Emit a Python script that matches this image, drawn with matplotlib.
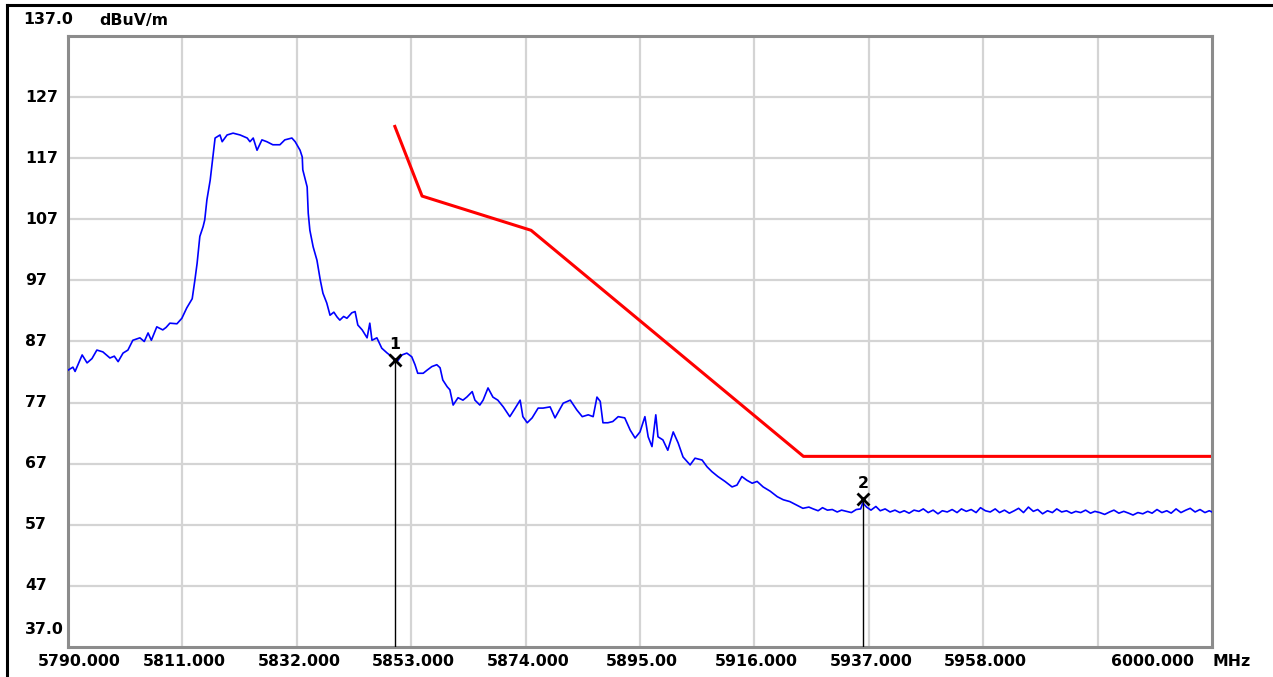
import matplotlib
matplotlib.use("Agg")
import matplotlib.pyplot as plt
from matplotlib.lines import Line2D
import matplotlib.transforms as mtrans

# ----- data -----
freq_mhz = [
    5790.0, 5790.9, 5791.3, 5792.6, 5793.5, 5794.4, 5795.3, 5796.4, 5797.7, 5798.5,
    5799.2, 5800.1, 5801.0, 5801.9, 5803.2, 5804.0, 5804.7, 5805.3, 5806.3, 5807.4,
    5808.0, 5808.7, 5810.0, 5810.9, 5811.8, 5812.8, 5813.3, 5813.7, 5814.2, 5814.8,
    5815.1, 5815.5, 5816.1, 5816.6, 5817.0, 5817.9, 5818.3, 5819.2, 5820.3, 5821.6,
    5822.9, 5823.4, 5824.0, 5824.7, 5825.6, 5826.5, 5827.6, 5828.9, 5829.8, 5831.1,
    5831.7, 5832.6, 5833.0, 5833.1, 5833.9, 5834.1, 5834.4, 5835.0, 5835.7, 5836.3,
    5836.8, 5837.5, 5838.1, 5838.8, 5839.4, 5839.9, 5840.6, 5841.2, 5842.1, 5842.7,
    5843.2, 5844.0, 5844.9, 5845.4, 5845.8, 5846.7, 5847.6, 5848.6, 5849.5, 5850.4,
    5851.3, 5852.2, 5853.1, 5853.7, 5854.2, 5855.2, 5855.9, 5856.8, 5857.7, 5858.3,
    5858.8, 5859.6, 5860.1, 5860.7, 5861.6, 5862.5, 5863.2, 5864.2, 5864.7, 5865.6,
    5866.2, 5867.1, 5868.0, 5868.9, 5869.9, 5871.1, 5872.1, 5873.0, 5873.5, 5874.3,
    5875.2, 5876.3, 5877.2, 5878.5, 5879.4, 5880.9, 5882.2, 5883.4, 5884.4, 5885.5,
    5886.4, 5887.1, 5887.7, 5888.2, 5889.1, 5890.0, 5891.0, 5892.2, 5893.2, 5894.1,
    5895.0, 5895.9, 5896.5, 5897.2, 5897.9, 5898.3, 5899.2, 5900.1, 5901.1, 5902.0,
    5902.9, 5904.2, 5905.1, 5906.4, 5907.3, 5908.2, 5909.3, 5910.6, 5911.9, 5912.8,
    5913.7, 5914.6, 5915.6, 5916.5, 5917.6, 5918.9, 5920.2, 5921.3, 5922.5, 5923.8,
    5924.9, 5926.0, 5926.8, 5927.7, 5928.5, 5929.4, 5930.3, 5931.2, 5932.0, 5932.9,
    5933.8, 5934.7, 5935.5, 5935.9, 5936.6, 5937.4, 5938.3, 5939.1, 5940.0, 5940.9,
    5941.8, 5942.7, 5943.5, 5944.4, 5945.3, 5946.2, 5947.0, 5947.9, 5948.8, 5949.7,
    5950.5, 5951.4, 5952.3, 5953.2, 5954.0, 5954.9, 5955.8, 5956.7, 5957.5, 5958.4,
    5959.3, 5960.2, 5961.0, 5961.9, 5962.8, 5963.7, 5964.5, 5965.4, 5966.3, 5967.2,
    5968.0, 5968.9, 5969.8, 5970.7, 5971.5, 5972.4, 5973.3, 5974.2, 5975.0, 5975.9,
    5976.8, 5977.7, 5978.5, 5979.4, 5980.3, 5981.2, 5982.0, 5982.9, 5983.8, 5984.7,
    5985.5, 5986.4, 5987.3, 5988.2, 5989.0, 5989.9, 5990.8, 5991.7, 5992.5, 5993.4,
    5994.3, 5995.2, 5996.0, 5996.9, 5997.8, 5998.7, 5999.5, 6000.0,
]
level_dbuv = [
    82.3, 82.8, 82.1, 84.8, 83.5, 84.2, 85.6, 85.3, 84.3, 84.6,
    83.7, 85.1, 85.6, 87.2, 87.6, 87.0, 88.4, 87.2, 89.4, 88.9,
    89.3, 90.0, 89.9, 90.8, 92.5, 94.0, 97.1, 99.8, 104.2, 105.8,
    106.9, 110.2, 113.4, 117.2, 120.3, 120.8, 119.7, 120.8, 121.1, 120.8,
    120.3, 119.7, 120.3, 118.3, 120.0, 119.7, 119.2, 119.2, 120.0, 120.3,
    119.7, 118.3, 117.2, 115.1, 112.3, 108.0, 105.2, 102.5, 100.3, 97.1,
    94.9, 93.3, 91.3, 91.8, 91.0, 90.5, 91.1, 90.8, 91.7, 91.9,
    89.7, 88.9, 87.6, 90.0, 87.2, 87.6, 85.9, 85.1, 84.5, 83.7,
    84.8, 85.1, 84.5, 83.2, 81.8, 81.8, 82.3, 82.9, 83.2, 82.7,
    80.7, 79.6, 79.1, 76.6, 77.8, 77.4, 77.9, 78.8, 77.4, 76.6,
    77.4, 79.4, 77.9, 77.4, 76.3, 74.7, 76.1, 77.4, 74.7, 73.7,
    74.5, 76.1, 76.1, 76.3, 74.5, 76.9, 77.4, 75.8, 74.7, 75.0,
    74.7, 77.9, 77.2, 73.7, 73.7, 73.9, 74.7, 74.5, 72.5, 71.2,
    72.2, 74.7, 71.4, 69.8, 75.0, 71.4, 70.9, 69.2, 72.2, 70.4,
    68.1, 66.8, 67.9, 67.6, 66.5, 65.7, 64.9, 64.1, 63.2, 63.5,
    64.9, 64.3, 63.8, 64.1, 63.2, 62.5, 61.6, 61.1, 60.8, 60.2,
    59.7, 59.9, 59.6, 59.3, 59.8, 59.4, 59.5, 59.1, 59.4, 59.2,
    59.0, 59.5, 59.6, 60.6, 59.9, 59.4, 60.0, 59.3, 59.6, 59.1,
    59.4, 59.0, 59.3, 58.9, 59.4, 59.2, 59.6, 59.0, 59.4, 58.8,
    59.3, 59.1, 59.5, 59.0, 59.6, 59.2, 59.5, 59.0, 59.8, 59.3,
    59.1, 59.6, 59.0, 59.4, 58.9, 59.3, 59.7, 59.0, 59.9, 59.2,
    59.5, 58.8, 59.3, 59.0, 59.6, 59.1, 59.3, 58.9, 59.2, 59.0,
    59.4, 58.9, 59.2, 59.0, 58.7, 59.1, 59.4, 58.9, 59.2, 58.9,
    58.6, 59.0, 58.8, 59.2, 58.9, 59.5, 59.0, 59.3, 58.9, 59.6,
    59.0, 59.4, 59.7, 59.1, 59.5, 59.0, 59.3, 59.1,
]

limit_freq = [5850.0, 5855.0, 5875.0, 5925.0, 6000.0]
limit_level = [122.2, 110.8, 105.2, 68.2, 68.2]

marker_ids = ["1", "2"]
marker_freq = [5850.0, 5935.9]
marker_level = [84.0, 61.2]

x_ticks = [5790, 5811, 5832, 5853, 5874, 5895, 5916, 5937, 5958, 5979, 6000]
x_labels = ["5790.000", "5811.000", "5832.000", "5853.000", "5874.000",
            "5895.00", "5916.000", "5937.000", "5958.000", "", "6000.000"]
y_ticks = [47, 57, 67, 77, 87, 97, 107, 117, 127]

FS = 11.3
FONT = dict(family="DejaVu Sans", weight="bold", fontsize=FS, color="black")

fig = plt.figure(figsize=(12.73, 6.77), dpi=100)
fig.patch.set_facecolor("white")
ax = fig.add_axes([68 / 1273, 30 / 677, 1144 / 1273, 611 / 677])
ax.set_xlim(5790, 6000)
ax.set_ylim(37, 137)

for x in x_ticks[1:-1]:
    ax.axvline(x, color="#d4d4d4", lw=1.6, zorder=0)
for y in y_ticks:
    ax.axhline(y, color="#d4d4d4", lw=1.6, zorder=0)

ax.set_xticks([])
ax.set_yticks([])
for s in ax.spines.values():
    s.set_color("#8c8c8c")
    s.set_linewidth(2.2)

ax.plot(freq_mhz, level_dbuv, color="#0000ff", lw=1.2, zorder=3)
ax.plot(limit_freq, limit_level, color="#ff0000", lw=2.2, zorder=2)

for mid, mf, ml in zip(marker_ids, marker_freq, marker_level):
    ax.plot([mf, mf], [ml, 37], color="black", lw=1.0, zorder=4)
    ax.plot(mf, ml, marker="x", color="black", ms=8, mew=2.0, zorder=5)
    ax.text(mf, ml + 1.3, mid, ha="center", va="bottom", **FONT)

# axis labels placed like the analyser screen
xt = mtrans.blended_transform_factory(ax.transData, fig.transFigure)
yt = mtrans.blended_transform_factory(fig.transFigure, ax.transData)
ly = 1 - 661 / 677
for x, lab in zip(x_ticks, x_labels):
    if not lab:
        continue
    if x == 5790:
        fig.text(38 / 1273, ly, lab, ha="left", va="center", **FONT)
    elif x == 6000:
        fig.text(1194 / 1273, ly, lab, ha="right", va="center", **FONT)
    else:
        ax.text(x + 0.4, ly, lab, ha="center", va="center", transform=xt, **FONT)
fig.text(1212 / 1273, ly, "MHz", ha="left", va="center", **FONT)

for y in y_ticks:
    ax.text(25 / 1273, y, str(y), ha="left", va="center", transform=yt, **FONT)
fig.text(25 / 1273, 1 - 630 / 677, "37.0", ha="left", va="center", **FONT)
fig.text(23 / 1273, 1 - 20 / 677, "137.0", ha="left", va="center", **FONT)
fig.text(99 / 1273, 1 - 20 / 677, "dBuV/m", ha="left", va="center", **FONT)

# outer window border
fig.add_artist(Line2D([6.5 / 1273, 6.5 / 1273], [0, 1 - 4.5 / 677],
                      transform=fig.transFigure, color="black", lw=2.2))
fig.add_artist(Line2D([6.5 / 1273, 1], [1 - 4.5 / 677, 1 - 4.5 / 677],
                      transform=fig.transFigure, color="black", lw=2.2))

fig.savefig("out.png", dpi=100)
